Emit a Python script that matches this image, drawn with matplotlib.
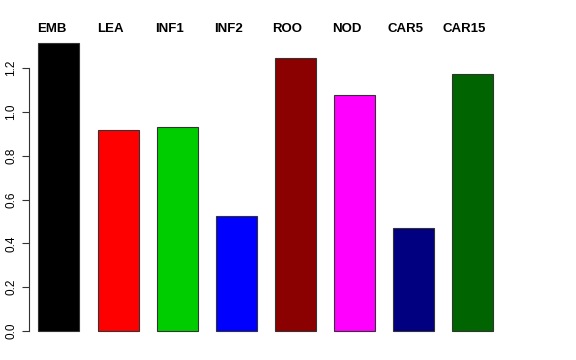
import matplotlib
matplotlib.use('Agg')
import matplotlib.pyplot as plt

plt.rcParams['font.family'] = ['Liberation Sans', 'DejaVu Sans']

# bar values
groups = ['EMB', 'LEA', 'INF1', 'INF2', 'ROO', 'NOD', 'CAR5', 'CAR15']
values = [1.315, 0.918, 0.932, 0.525, 1.248, 1.078, 0.470, 1.175]
colors = ['#000000', '#FF0000', '#00CD00', '#0000FF', '#8B0000', '#FF00FF', '#000080', '#006400']
yticks = [0.0, 0.2, 0.4, 0.6, 0.8, 1.0, 1.2]

W, H = 576, 360
fig = plt.figure(figsize=(W / 100, H / 100), dpi=100, facecolor='white')
# axes placed in pixels: left 29, right 520, top 31.4, bottom 342.5
ax = fig.add_axes([29 / W, (H - 342.5) / H, (520 - 29) / W, (342.5 - 31.4) / H])

x = list(range(len(groups)))
ax.bar(x, values, width=0.695, color=colors, edgecolor='#333333', linewidth=0.8)

ax.set_xlim(-0.508, 7.81)
ax.set_ylim(-0.0526, 1.368)

# group names on top, bold
for i, name in enumerate(groups):
    ax.text(i - 0.13, 1.377, name, ha='center', va='center', fontsize=9.5,
            fontweight='bold', clip_on=False)

for s in ['top', 'right', 'bottom']:
    ax.spines[s].set_visible(False)
ax.spines['left'].set_bounds(0, 1.2)
ax.spines['left'].set_color('#333333')
ax.set_xticks([])
ax.set_yticks(yticks)
ax.set_yticklabels([f'{t:.1f}' for t in yticks], rotation=90, va='center')
ax.tick_params(axis='y', length=5, width=0.8, color='#333333', labelsize=8.5, pad=3.5)

fig.savefig('out.png', dpi=100)
